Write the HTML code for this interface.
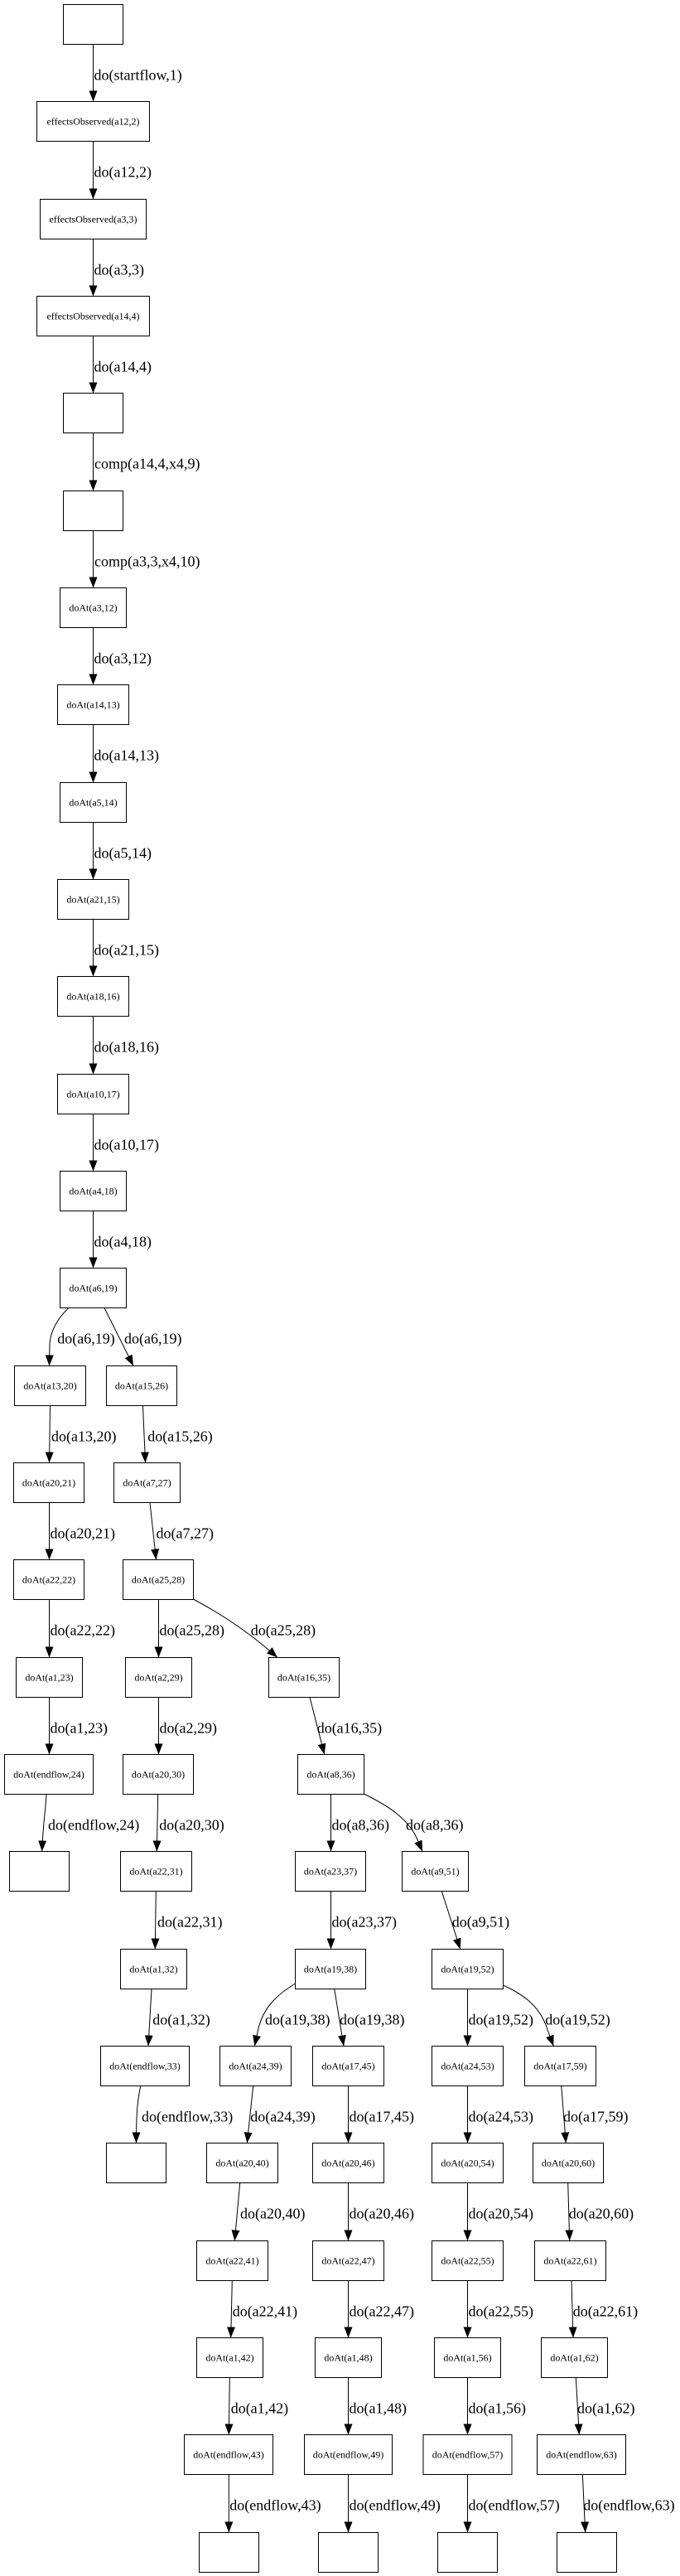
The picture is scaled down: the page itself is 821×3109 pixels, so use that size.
<!DOCTYPE html>
<html>
<head>
<meta charset="utf-8">
<style>
html,body{margin:0;padding:0;background:#fff;}
svg{display:block;}
.n rect{fill:#fff;stroke:#000;stroke-width:1;}
.t{font-family:"Liberation Serif",serif;font-size:12px;text-anchor:middle;fill:#000;}
.l{font-family:"Liberation Serif",serif;font-size:18px;fill:#000;}
.e path{fill:none;stroke:#000;stroke-width:1;marker-end:url(#ah);}
</style>
</head>
<body>
<svg width="821" height="3109" viewBox="0 0 821 3109" xmlns="http://www.w3.org/2000/svg">
<defs>
<marker id="ah" markerWidth="13" markerHeight="10" refX="13" refY="5" orient="auto" markerUnits="userSpaceOnUse">
<path d="M0,0 L13,5 L0,10 z" fill="#000"/>
</marker>
</defs>

<g class="n">
<rect x="76.5" y="5.5" width="72" height="48"/>
<rect x="44.5" y="122.5" width="136" height="48"/>
<rect x="48.5" y="240.5" width="128" height="48"/>
<rect x="44.5" y="357.5" width="136" height="48"/>
<rect x="76.5" y="474.5" width="72" height="48"/>
<rect x="76.5" y="592.5" width="72" height="48"/>
<rect x="72.5" y="709.5" width="80" height="48"/>
<rect x="69.5" y="826.5" width="86" height="48"/>
<rect x="72.5" y="944.5" width="80" height="48"/>
<rect x="69.5" y="1061.5" width="86" height="48"/>
<rect x="69.5" y="1178.5" width="86" height="48"/>
<rect x="69.5" y="1296.5" width="86" height="48"/>
<rect x="72.5" y="1413.5" width="80" height="48"/>
<rect x="72.5" y="1530.5" width="80" height="48"/>
<rect x="17.5" y="1648.5" width="86" height="48"/>
<rect x="128.5" y="1648.5" width="85" height="48"/>
<rect x="16.5" y="1765.5" width="85" height="48"/>
<rect x="137.5" y="1765.5" width="80" height="48"/>
<rect x="16.5" y="1882.5" width="85" height="48"/>
<rect x="148.5" y="1882.5" width="85" height="48"/>
<rect x="19.5" y="2000.5" width="80" height="48"/>
<rect x="151.5" y="2000.5" width="80" height="48"/>
<rect x="324.5" y="2000.5" width="85" height="48"/>
<rect x="5.5" y="2117.5" width="107" height="48"/>
<rect x="148.5" y="2117.5" width="85" height="48"/>
<rect x="359.5" y="2117.5" width="80" height="48"/>
<rect x="11.5" y="2234.5" width="72" height="48"/>
<rect x="145.5" y="2234.5" width="86" height="48"/>
<rect x="356.5" y="2234.5" width="85" height="48"/>
<rect x="485.5" y="2234.5" width="80" height="48"/>
<rect x="145.5" y="2352.5" width="80" height="48"/>
<rect x="356.5" y="2352.5" width="85" height="48"/>
<rect x="521.5" y="2352.5" width="86" height="48"/>
<rect x="121.5" y="2469.5" width="107" height="48"/>
<rect x="265.5" y="2469.5" width="86" height="48"/>
<rect x="377.5" y="2469.5" width="86" height="48"/>
<rect x="521.5" y="2469.5" width="86" height="48"/>
<rect x="633.5" y="2469.5" width="86" height="48"/>
<rect x="128.5" y="2586.5" width="72" height="48"/>
<rect x="249.5" y="2586.5" width="86" height="48"/>
<rect x="377.5" y="2586.5" width="86" height="48"/>
<rect x="521.5" y="2586.5" width="86" height="48"/>
<rect x="643.5" y="2586.5" width="85" height="48"/>
<rect x="237.5" y="2704.5" width="86" height="48"/>
<rect x="377.5" y="2704.5" width="86" height="48"/>
<rect x="521.5" y="2704.5" width="86" height="48"/>
<rect x="645.5" y="2704.5" width="86" height="48"/>
<rect x="237.5" y="2821.5" width="80" height="48"/>
<rect x="380.5" y="2821.5" width="80" height="48"/>
<rect x="524.5" y="2821.5" width="80" height="48"/>
<rect x="653.5" y="2821.5" width="80" height="48"/>
<rect x="222.5" y="2938.5" width="107" height="48"/>
<rect x="367.5" y="2938.5" width="106" height="48"/>
<rect x="511" y="2938.5" width="107" height="48"/>
<rect x="648.5" y="2938.5" width="107" height="48"/>
<rect x="240.5" y="3056.5" width="72" height="48"/>
<rect x="384.5" y="3056.5" width="72" height="48"/>
<rect x="528.5" y="3056.5" width="72" height="48"/>
<rect x="672.5" y="3056.5" width="72" height="48"/>
</g>

<g class="t">
<text x="112.5" y="150.5">effectsObserved(a12,2)</text>
<text x="112.5" y="268.5">effectsObserved(a3,3)</text>
<text x="112.5" y="385.5">effectsObserved(a14,4)</text>
<text x="112.5" y="737.5">doAt(a3,12)</text>
<text x="112.5" y="854.5">doAt(a14,13)</text>
<text x="112.5" y="972.5">doAt(a5,14)</text>
<text x="112.5" y="1089.5">doAt(a21,15)</text>
<text x="112.5" y="1206.5">doAt(a18,16)</text>
<text x="112.5" y="1324.5">doAt(a10,17)</text>
<text x="112.5" y="1441.5">doAt(a4,18)</text>
<text x="112.5" y="1558.5">doAt(a6,19)</text>
<text x="60.5" y="1676.5">doAt(a13,20)</text>
<text x="171" y="1676.5">doAt(a15,26)</text>
<text x="59" y="1793.5">doAt(a20,21)</text>
<text x="177.5" y="1793.5">doAt(a7,27)</text>
<text x="59" y="1910.5">doAt(a22,22)</text>
<text x="191" y="1910.5">doAt(a25,28)</text>
<text x="59.5" y="2028.5">doAt(a1,23)</text>
<text x="191.5" y="2028.5">doAt(a2,29)</text>
<text x="367" y="2028.5">doAt(a16,35)</text>
<text x="59" y="2145.5">doAt(endflow,24)</text>
<text x="191" y="2145.5">doAt(a20,30)</text>
<text x="399.5" y="2145.5">doAt(a8,36)</text>
<text x="188.5" y="2262.5">doAt(a22,31)</text>
<text x="399" y="2262.5">doAt(a23,37)</text>
<text x="525.5" y="2262.5">doAt(a9,51)</text>
<text x="185.5" y="2380.5">doAt(a1,32)</text>
<text x="399" y="2380.5">doAt(a19,38)</text>
<text x="564.5" y="2380.5">doAt(a19,52)</text>
<text x="175" y="2497.5">doAt(endflow,33)</text>
<text x="308.5" y="2497.5">doAt(a24,39)</text>
<text x="420.5" y="2497.5">doAt(a17,45)</text>
<text x="564.5" y="2497.5">doAt(a24,53)</text>
<text x="676.5" y="2497.5">doAt(a17,59)</text>
<text x="292.5" y="2614.5">doAt(a20,40)</text>
<text x="420.5" y="2614.5">doAt(a20,46)</text>
<text x="564.5" y="2614.5">doAt(a20,54)</text>
<text x="686" y="2614.5">doAt(a20,60)</text>
<text x="280.5" y="2732.5">doAt(a22,41)</text>
<text x="420.5" y="2732.5">doAt(a22,47)</text>
<text x="564.5" y="2732.5">doAt(a22,55)</text>
<text x="688.5" y="2732.5">doAt(a22,61)</text>
<text x="277.5" y="2849.5">doAt(a1,42)</text>
<text x="420.5" y="2849.5">doAt(a1,48)</text>
<text x="564.5" y="2849.5">doAt(a1,56)</text>
<text x="693.5" y="2849.5">doAt(a1,62)</text>
<text x="276" y="2966.5">doAt(endflow,43)</text>
<text x="420.5" y="2966.5">doAt(endflow,49)</text>
<text x="564.5" y="2966.5">doAt(endflow,57)</text>
<text x="702" y="2966.5">doAt(endflow,63)</text>
</g>

<g class="e">
<path d="M112.5 53.5 V122.5"/>
<path d="M112.5 170.5 V240.5"/>
<path d="M112.5 288.5 V357.5"/>
<path d="M112.5 405.5 V474.5"/>
<path d="M112.5 522.5 V592.5"/>
<path d="M112.5 640.5 V709.5"/>
<path d="M112.5 757.5 V826.5"/>
<path d="M112.5 874.5 V944.5"/>
<path d="M112.5 992.5 V1061.5"/>
<path d="M112.5 1109.5 V1178.5"/>
<path d="M112.5 1226.5 V1296.5"/>
<path d="M112.5 1344.5 V1413.5"/>
<path d="M112.5 1461.5 V1530.5"/>
<path d="M82.7 1578.5 C68 1593 61 1607 60 1622 L59.5 1648.5"/>
<path d="M126 1578.5 L161 1648.5"/>
<path d="M60.5 1696.5 L59.5 1765.5"/>
<path d="M172.5 1696.5 L175.5 1765.5"/>
<path d="M59.5 1813.5 V1882.5"/>
<path d="M181 1813.5 L188.5 1882.5"/>
<path d="M59.5 1930.5 V2000.5"/>
<path d="M191.5 1930.5 V2000.5"/>
<path d="M233.3 1930 Q290 1960 335 2000.5"/>
<path d="M59.5 2048.5 V2117.5"/>
<path d="M191.5 2048.5 V2117.5"/>
<path d="M374 2048.5 L391.7 2117.5"/>
<path d="M56 2165.5 C55 2185 52 2200 50.7 2234.5"/>
<path d="M190.7 2165.5 L189.3 2234.5"/>
<path d="M399.5 2165.5 V2234.5"/>
<path d="M439.3 2165 C470 2180 492 2195 503 2218 L510 2234.5"/>
<path d="M188.3 2282.5 L187.3 2352.5"/>
<path d="M399.5 2282.5 V2352.5"/>
<path d="M533.3 2282.5 L555.7 2352.5"/>
<path d="M183 2400.5 L179 2469.5"/>
<path d="M356.5 2394 C333 2408 318 2424 312 2448 L307.3 2469.5"/>
<path d="M403.7 2400.5 L415 2469.5"/>
<path d="M564.5 2400.5 V2469.5"/>
<path d="M607.5 2396 C630 2406 650 2420 659 2444 L668.3 2469.5"/>
<path d="M169.7 2517.5 C166 2535 164.5 2550 164.5 2586.5"/>
<path d="M305.7 2517.5 L298.3 2586.5"/>
<path d="M420.5 2517.5 V2586.5"/>
<path d="M564.5 2517.5 V2586.5"/>
<path d="M677.7 2517.5 L683.3 2586.5"/>
<path d="M289.7 2634.5 L283.3 2704.5"/>
<path d="M420.5 2634.5 V2704.5"/>
<path d="M564.5 2634.5 V2704.5"/>
<path d="M685.7 2634.5 L687.7 2704.5"/>
<path d="M280.3 2752.5 L278.7 2821.5"/>
<path d="M420.5 2752.5 V2821.5"/>
<path d="M564.5 2752.5 V2821.5"/>
<path d="M690 2752.5 L692 2821.5"/>
<path d="M277.3 2869.5 L276.3 2938.5"/>
<path d="M420.5 2869.5 V2938.5"/>
<path d="M564.5 2869.5 V2938.5"/>
<path d="M695.3 2869.5 L699.3 2938.5"/>
<path d="M276.3 2986.5 V3056.5"/>
<path d="M420.5 2986.5 V3056.5"/>
<path d="M564.5 2986.5 V3056.5"/>
<path d="M703.3 2986.5 L706.7 3056.5"/>
</g>

<g class="l">
<text x="113.5" y="96.5">do(startflow,1)</text>
<text x="113.5" y="213.5">do(a12,2)</text>
<text x="113.5" y="331.5">do(a3,3)</text>
<text x="113.5" y="448.5">do(a14,4)</text>
<text x="114" y="565.5">comp(a14,4,x4,9)</text>
<text x="114" y="683.5">comp(a3,3,x4,10)</text>
<text x="113.5" y="800.5">do(a3,12)</text>
<text x="113.5" y="917.5">do(a14,13)</text>
<text x="113.5" y="1035.5">do(a5,14)</text>
<text x="113.5" y="1152.5">do(a21,15)</text>
<text x="113.5" y="1269.5">do(a18,16)</text>
<text x="113.5" y="1387.5">do(a10,17)</text>
<text x="113.5" y="1504.5">do(a4,18)</text>
<text x="69.3" y="1621.5">do(a6,19)</text>
<text x="150" y="1621.5">do(a6,19)</text>
<text x="62" y="1739.5">do(a13,20)</text>
<text x="178.3" y="1739.5">do(a15,26)</text>
<text x="60.5" y="1856.5">do(a20,21)</text>
<text x="188.5" y="1856.5">do(a7,27)</text>
<text x="60.5" y="1973.5">do(a22,22)</text>
<text x="192.5" y="1973.5">do(a25,28)</text>
<text x="302.7" y="1973.5">do(a25,28)</text>
<text x="60.5" y="2091.5">do(a1,23)</text>
<text x="192.5" y="2091.5">do(a2,29)</text>
<text x="382.7" y="2091.5">do(a16,35)</text>
<text x="58" y="2208.5">do(endflow,24)</text>
<text x="192.3" y="2208.5">do(a20,30)</text>
<text x="400.5" y="2208.5">do(a8,36)</text>
<text x="490" y="2208.5">do(a8,36)</text>
<text x="190" y="2325.5">do(a22,31)</text>
<text x="400.5" y="2325.5">do(a23,37)</text>
<text x="545.7" y="2325.5">do(a9,51)</text>
<text x="184.3" y="2443.5">do(a1,32)</text>
<text x="320" y="2443.5">do(a19,38)</text>
<text x="410" y="2443.5">do(a19,38)</text>
<text x="565.5" y="2443.5">do(a19,52)</text>
<text x="658.3" y="2443.5">do(a19,52)</text>
<text x="171" y="2560.5">do(endflow,33)</text>
<text x="302.3" y="2560.5">do(a24,39)</text>
<text x="421.5" y="2560.5">do(a17,45)</text>
<text x="565.5" y="2560.5">do(a24,53)</text>
<text x="680" y="2560.5">do(a17,59)</text>
<text x="290" y="2677.5">do(a20,40)</text>
<text x="421.5" y="2677.5">do(a20,46)</text>
<text x="565.5" y="2677.5">do(a20,54)</text>
<text x="686.7" y="2677.5">do(a20,60)</text>
<text x="280.7" y="2795.5">do(a22,41)</text>
<text x="421.5" y="2795.5">do(a22,47)</text>
<text x="565.5" y="2795.5">do(a22,55)</text>
<text x="691.7" y="2795.5">do(a22,61)</text>
<text x="278.7" y="2912.5">do(a1,42)</text>
<text x="421.5" y="2912.5">do(a1,48)</text>
<text x="565.5" y="2912.5">do(a1,56)</text>
<text x="697" y="2912.5">do(a1,62)</text>
<text x="277.3" y="3029.5">do(endflow,43)</text>
<text x="421.5" y="3029.5">do(endflow,49)</text>
<text x="565.5" y="3029.5">do(endflow,57)</text>
<text x="704.3" y="3029.5">do(endflow,63)</text>
</g>
</svg>
</body>
</html>
